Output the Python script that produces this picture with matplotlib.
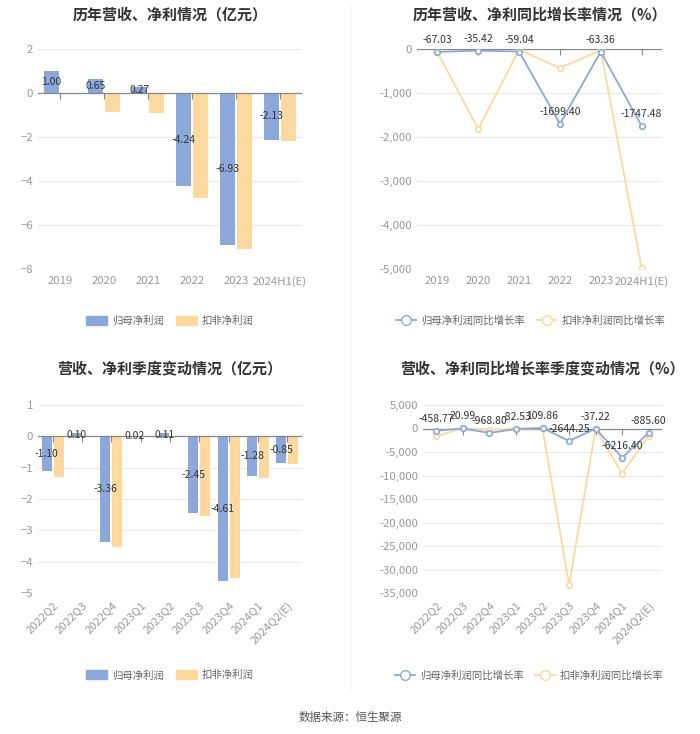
import matplotlib
matplotlib.use('Agg')
import matplotlib.pyplot as plt
import numpy as np
from matplotlib.ticker import FuncFormatter
from matplotlib.lines import Line2D
from matplotlib.patches import Patch

plt.rcParams['font.family'] = ['Noto Sans CJK SC', 'DejaVu Sans']

# annual data
years = ['2019', '2020', '2021', '2022', '2023', '2024H1(E)']
net_profit = [1.00, 0.65, 0.27, -4.24, -6.93, -2.13]
net_profit_ex = [0.02, -0.85, -0.90, -4.76, -7.07, -2.20]
net_growth = [-67.03, -35.42, -59.04, -1699.40, -63.36, -1747.48]
net_ex_growth = [-76, -1818, -15, -432, -30, -4977]

# quarterly data
quarters = ['2022Q2', '2022Q3', '2022Q4', '2023Q1', '2023Q2', '2023Q3', '2023Q4', '2024Q1', '2024Q2(E)']
q_profit = [-1.10, 0.10, -3.36, 0.02, 0.11, -2.45, -4.61, -1.28, -0.85]
q_profit_ex = [-1.29, 0.01, -3.53, 0.01, -0.03, -2.54, -4.53, -1.33, -0.88]
q_growth = [-458.77, 20.99, -968.80, -82.53, 109.86, -2644.25, -37.22, -6216.40, -885.60]
q_ex_growth = [-1600, 50, -300, -100, 50, -33300, -50, -9600, -1500]

BLUE = '#8CA8DB'
ORANGE = '#FDD9A0'
GRID = '#E9E9E9'
TICK = '#999999'
TEXT = '#333333'
FS = 7.5        # value labels, legend
TICK_FS = 8.2
TITLE_FS = 10.8

W, H = 700, 734
fig = plt.figure(figsize=(7, 7.34), dpi=100)


def box(x0, y0, x1, y1):
    # pixel box -> figure coords
    return [x0 / W, 1 - y1 / H, (x1 - x0) / W, (y1 - y0) / H]


def style(ax, n, ylim, yticks, fmt=None):
    ax.set_ylim(*ylim)
    ax.set_yticks(yticks)
    ax.grid(axis='y', color=GRID, lw=0.8)
    ax.set_axisbelow(True)
    for s in ax.spines.values():
        s.set_visible(False)
    ax.tick_params(axis='y', length=0, colors=TICK, labelsize=TICK_FS)
    ax.tick_params(axis='x', length=0, colors=TICK, labelsize=TICK_FS, pad=5)
    if fmt:
        ax.yaxis.set_major_formatter(FuncFormatter(fmt))
    ax.axhline(0, color='#888888', lw=0.9, zorder=3)
    # small ticks hanging off the zero line
    ax.plot(np.arange(n), np.zeros(n), ls='none', marker=3, ms=4, mew=0.8, color='#888888', zorder=3)


comma = lambda v, p: f'{v:,.0f}'

bar_legend = [Patch(color=BLUE, label='归母净利润'), Patch(color=ORANGE, label='扣非净利润')]
line_legend = [Line2D([], [], color=BLUE, marker='o', mfc='white', ms=7, lw=1.3, label='归母净利润同比增长率'),
               Line2D([], [], color=ORANGE, marker='o', mfc='white', ms=7, lw=1.3, label='扣非净利润同比增长率')]
leg_kw = dict(ncol=2, frameon=False, fontsize=FS, labelcolor='#666666', handletextpad=0.5, columnspacing=1.1)

# ---- chart 1: annual bars
ax1 = fig.add_axes(box(38, 49, 302, 269))
x = np.arange(len(years))
ax1.bar(x - 0.19, net_profit, 0.34, color=BLUE, zorder=2)
ax1.bar(x + 0.19, net_profit_ex, 0.34, color=ORANGE, zorder=2)
for xi, v in zip(x, net_profit):
    ax1.text(xi - 0.19, v / 2, f'{v:.2f}', ha='center', va='center', fontsize=FS, color=TEXT, zorder=4)
ax1.set_xlim(-0.5, len(years) - 0.5)
ax1.set_xticks(x)
ax1.set_xticklabels(years)
style(ax1, len(years), (-8, 2), [-8, -6, -4, -2, 0, 2])
ax1.set_title('历年营收、净利情况（亿元）', fontsize=TITLE_FS, fontweight='bold', color=TEXT, pad=21)
ax1.legend(handles=bar_legend, loc='upper center', bbox_to_anchor=(0.5, -0.17),
           handlelength=2.0, handleheight=1.0, **leg_kw)

# ---- chart 2: annual growth lines
ax2 = fig.add_axes(box(417, 49, 662, 269))
ax2.plot(x, net_growth, color=BLUE, lw=1.3, marker='o', ms=4, mfc='white', mew=1.2, zorder=5)
ax2.plot(x, net_ex_growth, color=ORANGE, lw=1.3, marker='o', ms=4, mfc='white', mew=1.2, zorder=4)
for xi, v in zip(x, net_growth):
    ax2.annotate(f'{v:.2f}', (xi, v), xytext=(0, 5), textcoords='offset points',
                 ha='center', va='bottom', fontsize=FS, color=TEXT, zorder=6)
ax2.set_xlim(-0.5, len(years) - 0.5)
ax2.set_xticks(x)
ax2.set_xticklabels(years)
style(ax2, len(years), (-5000, 0), [-5000, -4000, -3000, -2000, -1000, 0], comma)
ax2.set_title('历年营收、净利同比增长率情况（%）', fontsize=TITLE_FS, fontweight='bold', color=TEXT, pad=21)
ax2.legend(handles=line_legend, loc='upper center', bbox_to_anchor=(0.465, -0.17), handlelength=1.9, **leg_kw)

# ---- chart 3: quarterly bars
ax3 = fig.add_axes(box(38, 405, 302, 593))
xq = np.arange(len(quarters))
ax3.bar(xq - 0.2, q_profit, 0.34, color=BLUE, zorder=2)
ax3.bar(xq + 0.2, q_profit_ex, 0.34, color=ORANGE, zorder=2)
for xi, v in zip(xq, q_profit):
    ax3.text(xi - 0.2, v / 2, f'{v:.2f}', ha='center', va='center', fontsize=FS, color=TEXT, zorder=4)
ax3.set_xlim(-0.5, len(quarters) - 0.5)
ax3.set_xticks(xq)
ax3.set_xticklabels(quarters, rotation=45, ha='right', rotation_mode='anchor')
style(ax3, len(quarters), (-5, 1), [-5, -4, -3, -2, -1, 0, 1])
ax3.set_title('营收、净利季度变动情况（亿元）', fontsize=TITLE_FS, fontweight='bold', color=TEXT, pad=23)
ax3.legend(handles=bar_legend, loc='upper center', bbox_to_anchor=(0.5, -0.36),
           handlelength=2.0, handleheight=1.0, **leg_kw)

# ---- chart 4: quarterly growth lines
ax4 = fig.add_axes(box(423, 405, 662, 593))
ax4.plot(xq, q_growth, color=BLUE, lw=1.3, marker='o', ms=4, mfc='white', mew=1.2, zorder=5)
ax4.plot(xq, q_ex_growth, color=ORANGE, lw=1.3, marker='o', ms=4, mfc='white', mew=1.2, zorder=4)
for xi, v in zip(xq, q_growth):
    ax4.annotate(f'{v:.2f}', (xi, v), xytext=(0, 5), textcoords='offset points',
                 ha='center', va='bottom', fontsize=FS, color=TEXT, zorder=6)
ax4.set_xlim(-0.5, len(quarters) - 0.5)
ax4.set_xticks(xq)
ax4.set_xticklabels(quarters, rotation=45, ha='right', rotation_mode='anchor')
style(ax4, len(quarters), (-35000, 5000), list(range(-35000, 5001, 5000)), comma)
ax4.set_title('营收、净利同比增长率季度变动情况（%）', fontsize=TITLE_FS, fontweight='bold', color=TEXT, pad=23)
ax4.legend(handles=line_legend, loc='upper center', bbox_to_anchor=(0.445, -0.36), handlelength=1.9, **leg_kw)

# faint divider between left and right panels
fig.add_artist(Line2D([350 / W, 350 / W], [1 - 5 / H, 1 - 690 / H], color='#F2F2F2', lw=1))

fig.text(0.5, 1 - 717 / H, '数据来源：恒生聚源', ha='center', va='center', fontsize=8.3, color='#555555')

fig.savefig('out.png', dpi=100, facecolor='white')
